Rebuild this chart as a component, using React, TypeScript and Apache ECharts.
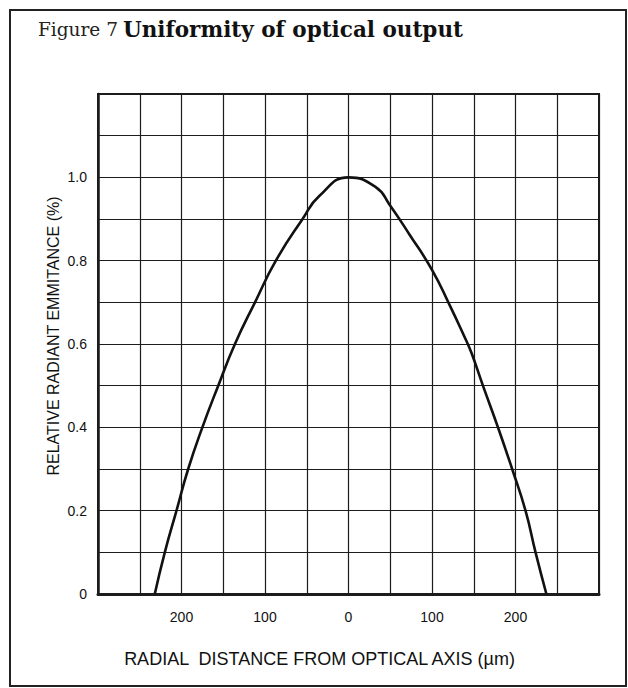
import React, { useEffect, useRef } from "react";
import * as echarts from "echarts";

// Radial distance (µm) and relative radiant emittance
const distance = [-232, -220, -206, -192, -175, -156, -136, -112, -87, -55, -35, 0, 33, 49, 73, 100, 121, 139, 147, 161, 179, 196, 212, 224, 237];
const emittance = [0, 0.1, 0.2, 0.3, 0.4, 0.5, 0.6, 0.7, 0.8, 0.9, 0.955, 1.0, 0.976, 0.935, 0.863, 0.778, 0.694, 0.617, 0.58, 0.5, 0.4, 0.3, 0.2, 0.1, 0];

const xTickLabels = [-200, -100, 0, 100, 200];
const yTickLabels = [0, 0.2, 0.4, 0.6, 0.8, 1.0];

const titleFigure = "Figure 7";
const titleText = "Uniformity of optical output";
const xName = "RADIAL  DISTANCE FROM OPTICAL AXIS (µm)";
const yName = "RELATIVE RADIANT EMMITANCE (%)";

export default function App() {
  const ref = useRef<HTMLDivElement>(null);
  useEffect(() => {
    if (!ref.current) return;
    const chart = echarts.init(ref.current, null, { renderer: "svg" });
    const ink = "#1c1c1c";
    chart.setOption({
      animation: false,
      backgroundColor: "#ffffff",
      title: {
        text: `{a|${titleFigure}} {b|${titleText}}`,
        left: 33,
        top: 13,
        textStyle: {
          rich: {
            a: { fontFamily: "DejaVu Serif", fontSize: 18.5, fontWeight: "normal", color: "#222" },
            b: { fontFamily: "DejaVu Serif", fontSize: 21.5, fontWeight: "bold", color: "#111" },
          },
        },
      },
      graphic: [
        {
          type: "rect",
          shape: { x: 10, y: 10, width: 616, height: 676 },
          style: { fill: "none", stroke: "#222", lineWidth: 2 },
          silent: true,
        },
      ],
      grid: {
        left: 98,
        right: 29,
        top: 94,
        bottom: 94,
        show: true,
        borderColor: ink,
        borderWidth: 2,
        containLabel: false,
      },
      xAxis: {
        type: "value",
        min: -300,
        max: 300,
        interval: 50,
        name: xName,
        nameLocation: "middle",
        nameGap: 56,
        nameTextStyle: {
          fontFamily: "Liberation Sans",
          fontSize: 18,
          color: "#111",
          padding: [0, 58, 0, 0],
        },
        axisLine: { show: true, onZero: false, lineStyle: { color: ink, width: 3 } },
        axisTick: { show: false },
        splitLine: { show: true, lineStyle: { color: ink, width: 1.2 } },
        axisLabel: {
          margin: 16,
          fontFamily: "Liberation Sans",
          fontSize: 14,
          color: "#111",
          formatter: (v: number) => {
            const r = Math.round(v);
            return xTickLabels.includes(r) ? String(Math.abs(r)) : "";
          },
        },
      },
      yAxis: {
        type: "value",
        min: 0,
        max: 1.2,
        interval: 0.1,
        name: yName,
        nameLocation: "middle",
        nameGap: 37,
        nameMoveOverlap: false,
        nameTextStyle: {
          fontFamily: "Liberation Sans",
          fontSize: 16,
          color: "#111",
          padding: [0, 0, 0, 16],
        },
        axisLine: { show: true, onZero: false, lineStyle: { color: ink, width: 2.5 } },
        axisTick: { show: false },
        splitLine: { show: true, lineStyle: { color: ink, width: 1.2 } },
        axisLabel: {
          margin: 11,
          fontFamily: "Liberation Sans",
          fontSize: 14,
          color: "#111",
          formatter: (v: number) => {
            const k = Math.round(v * 10);
            const match = yTickLabels.find((t) => Math.round(t * 10) === k);
            if (match === undefined || Math.abs(v * 10 - k) > 0.01) return "";
            return k === 0 ? "0" : match.toFixed(1);
          },
        },
      },
      series: [
        {
          type: "line",
          data: distance.map((d, i) => [d, emittance[i]]),
          smooth: 0.5,
          showSymbol: false,
          lineStyle: { color: "#111", width: 2.6 },
          silent: true,
        },
      ],
    });
    return () => chart.dispose();
  }, []);
  return (
    <div
      ref={ref}
      style={{ position: "absolute", left: 0, top: 0, width: 628, height: 688 }}
    />
  );
}
